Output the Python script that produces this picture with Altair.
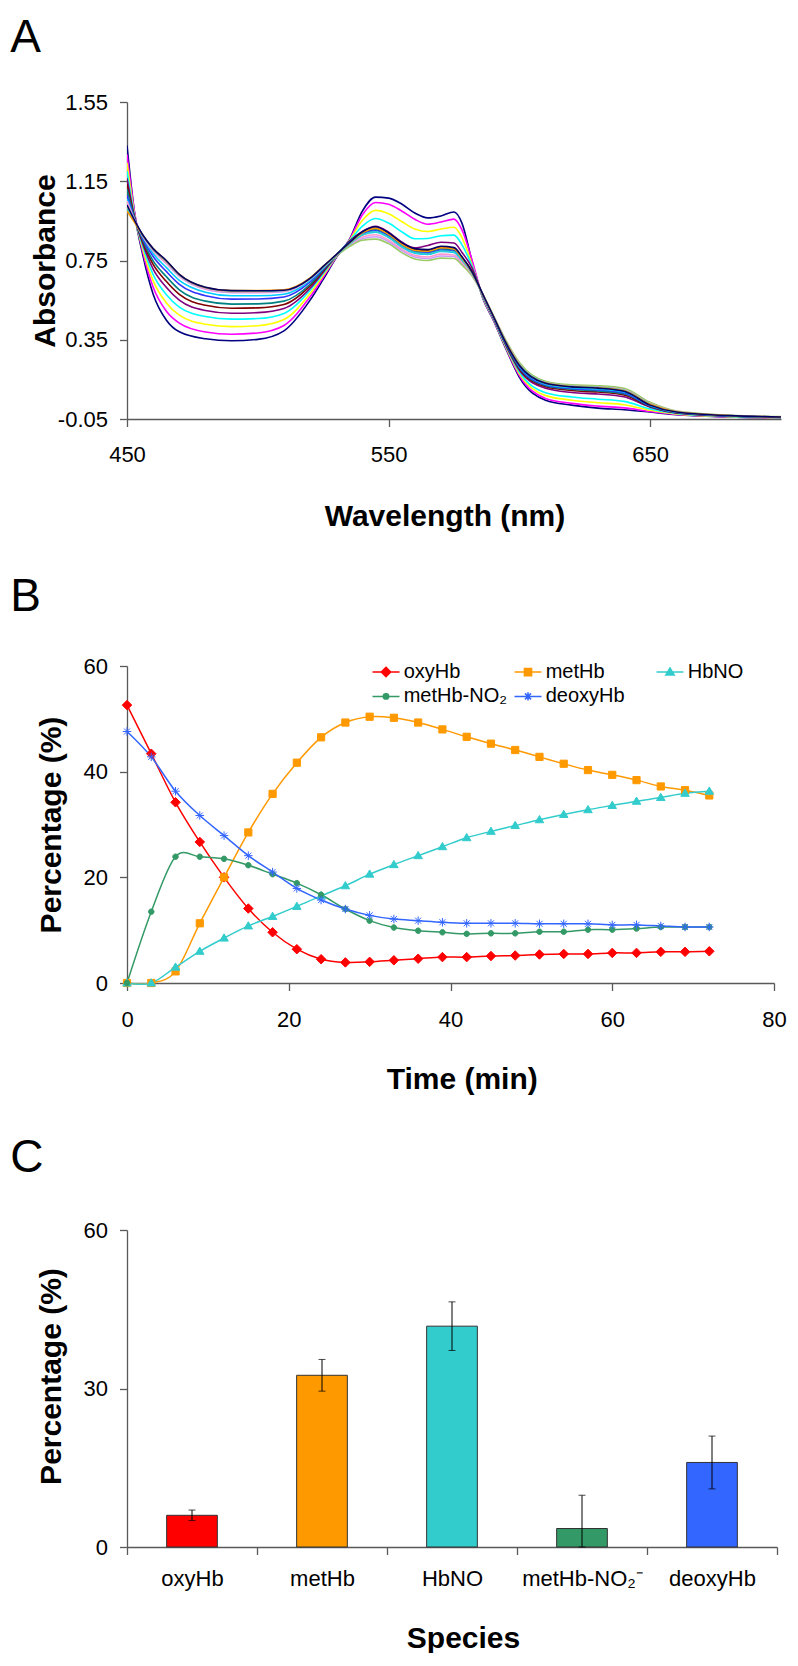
import altair as alt
import pandas as pd

FONT = "Liberation Sans, Arial, Helvetica, sans-serif"
AXIS_GRAY = "#595959"

# ---------------- Panel A : spectra ----------------
wavelengths = [450, 453, 456, 460, 465, 470, 480, 490, 500, 510, 520, 525, 530, 535, 540, 545,
               550, 555, 560, 565, 570, 575, 578, 582, 586, 590, 595, 600, 610, 620, 630, 640,
               650, 660, 680, 700]

spec_navy = [1.33, 0.98, 0.78, 0.58, 0.45, 0.39, 0.355, 0.345, 0.352, 0.395, 0.55, 0.655, 0.765, 0.855, 1.00, 1.07,
             1.065, 1.035, 0.99, 0.965, 0.975, 0.995, 0.94, 0.74, 0.56, 0.45, 0.30, 0.16, 0.045, 0.02, 0.005, -0.003,
             -0.015, -0.028, -0.04, -0.046]
spec_magenta = [1.285, 0.985, 0.795, 0.615, 0.495, 0.434, 0.389, 0.378, 0.384, 0.422, 0.567, 0.665, 0.767, 0.853, 0.981, 1.043,
                1.034, 1.0, 0.958, 0.933, 0.944, 0.959, 0.906, 0.748, 0.563, 0.453, 0.305, 0.169, 0.054, 0.029, 0.015, 0.006,
                -0.012, -0.027, -0.039, -0.045]
spec_yellow = [1.243, 0.971, 0.809, 0.647, 0.537, 0.474, 0.428, 0.416, 0.421, 0.452, 0.583, 0.675, 0.77, 0.85, 0.953, 1.003,
               0.986, 0.947, 0.909, 0.896, 0.909, 0.918, 0.867, 0.725, 0.566, 0.456, 0.309, 0.178, 0.068, 0.045, 0.032, 0.022,
               -0.006, -0.024, -0.038, -0.044]
spec_cyan = [1.201, 0.967, 0.823, 0.679, 0.579, 0.515, 0.467, 0.454, 0.457, 0.483, 0.6, 0.684, 0.772, 0.848, 0.924, 0.962,
             0.939, 0.895, 0.86, 0.861, 0.875, 0.878, 0.83, 0.718, 0.569, 0.459, 0.314, 0.187, 0.083, 0.061, 0.05, 0.039,
             0.001, -0.022, -0.037, -0.043]
spec_purple = [1.165, 0.963, 0.835, 0.707, 0.615, 0.55, 0.498, 0.484, 0.487, 0.508, 0.61, 0.691, 0.773, 0.847, 0.897, 0.923,
               0.893, 0.844, 0.814, 0.826, 0.842, 0.838, 0.792, 0.71, 0.572, 0.462, 0.318, 0.196, 0.105, 0.084, 0.076, 0.062,
               0.01, -0.019, -0.035, -0.042]
spec_maroon = [1.135, 0.96, 0.845, 0.73, 0.645, 0.579, 0.524, 0.509, 0.511, 0.528, 0.622, 0.697, 0.775, 0.845, 0.893, 0.912,
               0.884, 0.835, 0.805, 0.8, 0.815, 0.81, 0.765, 0.695, 0.575, 0.465, 0.322, 0.202, 0.113, 0.094, 0.086, 0.071,
               0.013, -0.018, -0.034, -0.041]
spec_teal = [1.11, 0.958, 0.853, 0.748, 0.669, 0.602, 0.545, 0.53, 0.531, 0.545, 0.63, 0.702, 0.776, 0.843, 0.888, 0.905,
             0.877, 0.828, 0.798, 0.793, 0.808, 0.802, 0.758, 0.69, 0.576, 0.466, 0.325, 0.207, 0.118, 0.1, 0.092, 0.077,
             0.015, -0.017, -0.034, -0.041]
spec_blue = [1.08, 0.955, 0.862, 0.77, 0.695, 0.63, 0.572, 0.555, 0.556, 0.566, 0.642, 0.708, 0.778, 0.842, 0.885, 0.9,
             0.872, 0.823, 0.792, 0.787, 0.802, 0.796, 0.752, 0.686, 0.577, 0.467, 0.327, 0.212, 0.122, 0.104, 0.097, 0.082,
             0.017, -0.016, -0.034, -0.041]
spec_sky = [1.06, 0.952, 0.87, 0.785, 0.715, 0.65, 0.59, 0.572, 0.572, 0.58, 0.65, 0.712, 0.78, 0.84, 0.88, 0.893,
            0.866, 0.818, 0.787, 0.781, 0.796, 0.79, 0.748, 0.683, 0.578, 0.468, 0.33, 0.217, 0.126, 0.108, 0.101, 0.087,
            0.02, -0.015, -0.033, -0.04]
spec_lavender = [1.04, 0.95, 0.875, 0.8, 0.735, 0.67, 0.605, 0.588, 0.587, 0.592, 0.656, 0.715, 0.775, 0.825, 0.86, 0.87,
                 0.845, 0.8, 0.768, 0.76, 0.773, 0.77, 0.735, 0.675, 0.578, 0.472, 0.34, 0.23, 0.135, 0.118, 0.114, 0.1,
                 0.03, -0.012, -0.032, -0.039]
spec_green = [1.02, 0.945, 0.878, 0.805, 0.742, 0.675, 0.61, 0.592, 0.592, 0.596, 0.658, 0.715, 0.772, 0.82, 0.852, 0.858,
              0.835, 0.79, 0.758, 0.75, 0.762, 0.76, 0.728, 0.67, 0.578, 0.474, 0.343, 0.235, 0.14, 0.122, 0.118, 0.105,
              0.034, -0.01, -0.031, -0.038]
spec_pink = [1.05, 0.952, 0.872, 0.798, 0.738, 0.672, 0.608, 0.592, 0.591, 0.595, 0.657, 0.716, 0.776, 0.83, 0.868, 0.88,
             0.853, 0.808, 0.776, 0.768, 0.782, 0.778, 0.74, 0.678, 0.578, 0.471, 0.337, 0.227, 0.134, 0.116, 0.111, 0.097,
             0.028, -0.012, -0.032, -0.039]
spec_turq = [1.01, 0.943, 0.876, 0.806, 0.745, 0.677, 0.612, 0.595, 0.595, 0.599, 0.66, 0.717, 0.776, 0.832, 0.878, 0.895,
             0.868, 0.822, 0.79, 0.783, 0.798, 0.794, 0.752, 0.682, 0.579, 0.471, 0.335, 0.225, 0.133, 0.115, 0.11, 0.095,
             0.026, -0.013, -0.032, -0.04]
spec_orange = [1.0, 0.94, 0.878, 0.81, 0.748, 0.68, 0.614, 0.598, 0.598, 0.602, 0.662, 0.72, 0.78, 0.838, 0.89, 0.912,
               0.882, 0.833, 0.802, 0.797, 0.814, 0.808, 0.764, 0.688, 0.58, 0.47, 0.333, 0.222, 0.131, 0.113, 0.108, 0.093,
               0.024, -0.013, -0.032, -0.04]
spec_dark = [1.03, 0.95, 0.88, 0.81, 0.75, 0.68, 0.615, 0.598, 0.597, 0.60, 0.66, 0.72, 0.78, 0.84, 0.895, 0.92,
             0.89, 0.84, 0.81, 0.805, 0.822, 0.815, 0.77, 0.69, 0.58, 0.47, 0.33, 0.22, 0.13, 0.112, 0.106, 0.09,
             0.02, -0.015, -0.033, -0.04]

spectra_names = ["s01", "s02", "s03", "s04", "s05", "s06", "s07", "s08", "s09", "s10",
                 "s11", "s12", "s13", "s14", "s15"]
spectra_colors = ["#000080", "#FF00FF", "#FFFF00", "#00FFFF", "#800080", "#800000", "#008080",
                  "#3333FF", "#00CCFF", "#CC99FF", "#99CC66", "#FF99CC", "#33CCCC", "#FF9900", "#000066"]
spectra_values = [spec_navy, spec_magenta, spec_yellow, spec_cyan, spec_purple, spec_maroon, spec_teal,
                  spec_blue, spec_sky, spec_lavender, spec_green, spec_pink, spec_turq, spec_orange, spec_dark]

rowsA = []
for name, vals in zip(spectra_names, spectra_values):
    for w, v in zip(wavelengths, vals):
        rowsA.append({"curve": name, "wl": w, "absb": v})
dfA = pd.DataFrame(rowsA)

# ---------------- Panel B : time course ----------------
time_min = [0, 3, 6, 9, 12, 15, 18, 21, 24, 27, 30, 33, 36, 39, 42, 45, 48, 51, 54, 57, 60, 63, 66, 69, 72]
oxyHb = [52.6, 43.4, 34.2, 26.7, 20.0, 14.1, 9.6, 6.4, 4.5, 3.9, 4.0, 4.3, 4.6, 4.9, 4.9, 5.1, 5.2, 5.4, 5.5, 5.5,
         5.7, 5.7, 5.9, 5.9, 6.0]
metHb = [0.0, 0.0, 2.2, 11.3, 20.0, 28.5, 35.8, 41.7, 46.5, 49.3, 50.4, 50.2, 49.3, 48.0, 46.6, 45.3, 44.1, 42.8,
         41.5, 40.3, 39.4, 38.4, 37.2, 36.5, 35.5]
HbNO = [0.0, 0.0, 3.0, 6.0, 8.5, 10.8, 12.6, 14.5, 16.5, 18.4, 20.6, 22.4, 24.1, 25.8, 27.5, 28.7, 29.8, 30.9,
        31.9, 32.8, 33.6, 34.4, 35.1, 35.9, 36.3]
metHbNO2 = [0.0, 13.5, 23.9, 23.9, 23.5, 22.3, 20.6, 18.9, 16.7, 14.0, 11.8, 10.5, 9.9, 9.6, 9.3, 9.4, 9.4, 9.7,
            9.7, 10.1, 10.1, 10.3, 10.6, 10.6, 10.6]
deoxyHb = [47.6, 42.8, 36.3, 31.7, 27.9, 24.1, 21.0, 17.9, 15.7, 14.0, 12.8, 12.1, 11.8, 11.5, 11.3, 11.3, 11.3,
           11.2, 11.2, 11.2, 11.0, 11.0, 10.8, 10.6, 10.6]

b_names = ["oxyHb", "metHb", "HbNO", "metHb-NO\u2082", "deoxyHb"]
b_colors = ["#FF0000", "#FF9900", "#33CCCC", "#339966", "#3366FF"]
b_series = [oxyHb, metHb, HbNO, metHbNO2, deoxyHb]
b_plot_shapes = [
    "M0,-0.95L0.95,0L0,0.95L-0.95,0Z",
    "M-0.72,-0.72H0.72V0.72H-0.72Z",
    "M0,-0.85L0.85,0.6H-0.85Z",
    "M-0.55,0A0.55,0.55,0,1,0,0.55,0A0.55,0.55,0,1,0,-0.55,0Z",
    "M-0.85,0H0.85M0,-0.85V0.85M-0.6,-0.6L0.6,0.6M-0.6,0.6L0.6,-0.6",
]
b_legend_shapes = [
    "M-1.35,0H1.35M0,-0.47L0.47,0L0,0.47L-0.47,0Z",
    "M-1.35,0H1.35M-0.36,-0.36H0.36V0.36H-0.36Z",
    "M-1.35,0H1.35M0,-0.42L0.42,0.3H-0.42Z",
    "M-1.35,0H1.35M-0.27,0A0.27,0.27,0,1,0,0.27,0A0.27,0.27,0,1,0,-0.27,0Z",
    "M-1.35,0H1.35M0,-0.42V0.42M-0.3,-0.3L0.3,0.3M-0.3,0.3L0.3,-0.3",
]
# legend entries fill column by column: this order gives rows
# (oxyHb, metHb, HbNO) / (metHb-NO2, deoxyHb)
legend_order = [0, 3, 1, 4, 2]
leg_names = [b_names[i] for i in legend_order]
leg_colors = [b_colors[i] for i in legend_order]
leg_shapes = [b_legend_shapes[i] for i in legend_order]

rowsB = []
for name, vals in zip(b_names, b_series):
    for t, v in zip(time_min, vals):
        rowsB.append({"species": name, "time": t, "pct": v})
dfB = pd.DataFrame(rowsB)

# ---------------- Panel C : bars ----------------
c_species = ["oxyHb", "metHb", "HbNO", "metHb-NO\u2082\u207b", "deoxyHb"]
c_pct = [6.0, 32.5, 41.8, 3.5, 16.0]
c_err = [1.0, 3.0, 4.6, 6.3, 5.0]
c_colors = ["#FF0000", "#FF9900", "#33CCCC", "#339966", "#3366FF"]
dfC = pd.DataFrame({"species": c_species, "pct": c_pct, "err": c_err})

PLOT_H = 317


def panel_title(letter, dy):
    return alt.TitleParams(text=letter, anchor="start", frame="group", orient="top",
                           fontSize=46, fontWeight="normal", font=FONT, color="black",
                           dx=-116.8, dy=dy, offset=0, baseline="alphabetic")


def y_axis(title, values, title_y, title_x, label_expr=None):
    kw = dict(title=title, values=values, labelPadding=12, titleX=title_x, titleY=title_y,
              titleAngle=270, titleBaseline="alphabetic", titleAlign="center")
    if label_expr:
        kw["labelExpr"] = label_expr
    return alt.Axis(**kw)


# ---- A
chartA = alt.Chart(dfA).mark_line(strokeWidth=1.6, interpolate="monotone", clip=True).encode(
    x=alt.X("wl:Q", scale=alt.Scale(domain=[450, 700], nice=False, zero=False),
            axis=alt.Axis(title="Wavelength (nm)", values=[450, 550, 650], format="d", labelPadding=18,
                          titleX=317.5, titleY=106, titleBaseline="alphabetic", titleAlign="center")),
    y=alt.Y("absb:Q", scale=alt.Scale(domain=[-0.05, 1.55], nice=False, zero=False),
            axis=y_axis("Absorbance", [-0.05, 0.35, 0.75, 1.15, 1.55], 158.5, -72.7,
                        "replace(format(datum.value, '.2f'), '\u2212', '-')")),
    color=alt.Color("curve:N", scale=alt.Scale(domain=spectra_names, range=spectra_colors), legend=None),
).properties(width=654, height=PLOT_H, title=panel_title("A", 7))

# ---- B
xB = alt.X("time:Q", scale=alt.Scale(domain=[0, 80], nice=False, zero=False),
           axis=alt.Axis(title="Time (min)", values=[0, 20, 40, 60, 80], labelPadding=18.5,
                         titleX=334.7, titleY=105, titleBaseline="alphabetic", titleAlign="center"))
yB = alt.Y("pct:Q", scale=alt.Scale(domain=[0, 60], nice=False),
           axis=y_axis("Percentage (%)", [0, 20, 40, 60], 158.5, -67))
baseB = alt.Chart(dfB).encode(x=xB, y=yB)

linesB = baseB.mark_line(strokeWidth=1.5, interpolate="cardinal").encode(
    color=alt.Color("species:N", scale=alt.Scale(domain=b_names, range=b_colors), legend=None))

pointsB = baseB.mark_point(filled=True, opacity=1, size=100, strokeWidth=1).encode(
    fill=alt.Fill("species:N", scale=alt.Scale(domain=b_names, range=b_colors), legend=None),
    stroke=alt.Stroke("species:N", scale=alt.Scale(domain=b_names, range=b_colors), legend=None),
    shape=alt.Shape("species:N", scale=alt.Scale(domain=b_names, range=b_plot_shapes), legend=None),
)

LEG = alt.Legend(title=None, orient="none", legendX=248, legendY=-4.9, columns=3, gridAlign="all",
                 columnPadding=3, rowPadding=3.3, labelFont=FONT, labelFontSize=20, labelColor="black",
                 labelOffset=6.7, symbolSize=400, symbolStrokeWidth=1.5, padding=0, labelLimit=300)

legendB = baseB.mark_point(filled=True, opacity=1, size=400, strokeWidth=1.5).encode(
    fill=alt.Fill("species:N", scale=alt.Scale(domain=leg_names, range=leg_colors), legend=LEG),
    stroke=alt.Stroke("species:N", scale=alt.Scale(domain=leg_names, range=leg_colors), legend=LEG),
    shape=alt.Shape("species:N", scale=alt.Scale(domain=leg_names, range=leg_shapes), legend=LEG),
).transform_filter("false")

chartB = alt.layer(linesB, pointsB, legendB).resolve_scale(
    color="independent", fill="independent", stroke="independent", shape="independent"
).properties(width=647, height=PLOT_H, title=panel_title("B", 1.5))

# ---- C
baseC = alt.Chart(dfC).transform_calculate(
    lo="max(0, datum.pct - datum.err)", hi="datum.pct + datum.err")
xC = alt.X("species:N", sort=c_species, scale=alt.Scale(paddingInner=0, paddingOuter=0),
           axis=alt.Axis(title="Species", labelAngle=0, tickBand="extent", labelPadding=13.5,
                         titleX=336, titleY=100, titleBaseline="alphabetic", titleAlign="center"))
yC = alt.Y("pct:Q", scale=alt.Scale(domain=[0, 60], nice=False),
           axis=y_axis("Percentage (%)", [0, 30, 60], 146, -67))

barsC = baseC.mark_bar(width=alt.RelativeBandSize(0.39), stroke="#333333", strokeWidth=1).encode(
    x=xC, y=yC,
    color=alt.Color("species:N", scale=alt.Scale(domain=c_species, range=c_colors), legend=None))
rulesC = baseC.mark_rule(color="black", strokeWidth=1).encode(x=xC, y="lo:Q", y2="hi:Q")
capHi = baseC.mark_tick(color="black", size=7, thickness=1, orient="horizontal").encode(x=xC, y="hi:Q")
capLo = baseC.mark_tick(color="black", size=7, thickness=1, orient="horizontal").encode(x=xC, y="lo:Q")

chartC = alt.layer(barsC, rulesC, capHi, capLo).properties(
    width=650, height=PLOT_H, title=panel_title("C", -1.5))

chart = alt.vconcat(chartA, chartB, chartC, spacing=247, bounds="flush").resolve_scale(
    color="independent", fill="independent", stroke="independent", shape="independent"
).properties(
    padding={"left": 2, "top": 7, "right": 0, "bottom": 0}
).configure_view(stroke=None).configure_axis(
    domainColor=AXIS_GRAY, tickColor=AXIS_GRAY, domainWidth=1.3, tickWidth=1.3,
    labelColor="black", labelFont=FONT, labelFontSize=22, titleFont=FONT, titleColor="black",
    titleFontSize=30, titleFontWeight="bold", grid=False, tickSize=7.5,
    labelFlush=False, labelOverlap=False
)

chart.save("out.html", embed_options={"renderer": "svg", "actions": False})
